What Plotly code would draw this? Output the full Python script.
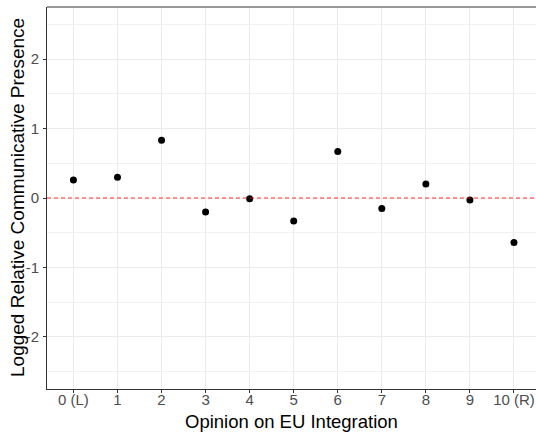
import plotly.graph_objects as go

positions = list(range(11))
tick_labels = ["0 (L)", "1", "2", "3", "4", "5", "6", "7", "8", "9", "10 (R)"]
y_ticks = [-2, -1, 0, 1, 2]
y_tick_labels = ["-2", "-1", "0", "1", "2"]
values = [0.26, 0.30, 0.83, -0.20, -0.01, -0.33, 0.67, -0.15, 0.20, -0.03, -0.64]

fig = go.Figure()
fig.add_trace(go.Scatter(
    x=positions, y=values, mode="markers",
    marker=dict(color="black", size=7),
    showlegend=False, cliponaxis=False,
))
fig.add_hline(y=0, line=dict(color="rgba(255,0,0,0.8)", width=1, dash="4px,3px"))
fig.add_shape(type="line", xref="paper", yref="paper", x0=0, x1=1, y0=1, y1=1,
              line=dict(color="#333333", width=1))

minor_y = dict(tickvals=[-2.5, -1.5, -0.5, 0.5, 1.5, 2.5], showgrid=True,
               gridcolor="#F2F2F2", gridwidth=0.6)

fig.update_layout(
    width=536, height=435,
    margin=dict(l=47, r=0, t=7, b=46),
    plot_bgcolor="white", paper_bgcolor="white",
    font=dict(family="Liberation Sans, Arial, sans-serif"),
    xaxis=dict(
        range=[-0.6, 10.5], tickmode="array", tickvals=positions, ticktext=tick_labels,
        showgrid=True, gridcolor="#EBEBEB", gridwidth=1,
        showline=True, linecolor="#333333", linewidth=1,
        ticks="outside", ticklen=3, tickcolor="#333333",
        tickfont=dict(size=15, color="#4D4D4D"),
        ticklabelstandoff=-6,
        zeroline=False,
    ),
    yaxis=dict(
        range=[-2.75, 2.75], tickmode="array", tickvals=y_ticks, ticktext=y_tick_labels,
        showgrid=True, gridcolor="#EBEBEB", gridwidth=1,
        minor=minor_y,
        showline=True, linecolor="#333333", linewidth=1,
        ticks="outside", ticklen=3, tickcolor="#333333",
        tickfont=dict(size=15, color="#4D4D4D"),
        ticklabelstandoff=1,
        zeroline=False,
    ),
    annotations=[
        dict(text="Opinion on EU Integration", xref="paper", yref="paper",
             x=0.5, y=0, yshift=-20, xanchor="center", yanchor="top",
             showarrow=False, font=dict(size=18.5, color="black")),
        dict(text="Logged Relative Communicative Presence", xref="paper", yref="paper",
             x=0, y=0.5, xshift=-30, xanchor="center", yanchor="middle", textangle=-90,
             showarrow=False, font=dict(size=19, color="black")),
    ],
)
fig.write_html("out.html")
